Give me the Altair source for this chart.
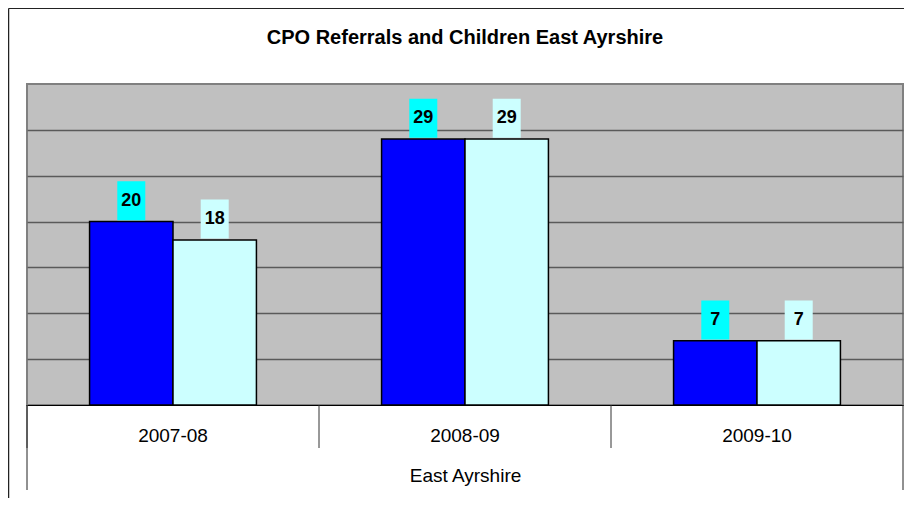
import altair as alt
import pandas as pd

years = ["2007-08", "2008-09", "2009-10"]
series = ["Referrals", "Children"]
referrals = [20, 29, 7]
children = [18, 29, 7]
chart_title = "CPO Referrals and Children East Ayrshire"
group_label = "East Ayrshire"

rows = []
for yr, a, b in zip(years, referrals, children):
    rows.append({"year": yr, "series": series[0], "value": a})
    rows.append({"year": yr, "series": series[1], "value": b})
df = pd.DataFrame(rows)
one = pd.DataFrame({"k": [0]})

W, H = 876, 321
FONT = "Liberation Sans"

yscale = alt.Scale(domain=[0, 35], nice=False, zero=True)
y_axis = alt.Axis(title=None, labels=False, ticks=False, domain=False, grid=True,
                  gridColor="#5a5a5a", gridWidth=1.5, values=[5, 10, 15, 20, 25, 30])

x_axis = alt.Axis(
    title=group_label, labelAngle=0, ticks=False, tickSize=0,
    domain=True, domainColor="#000000", domainWidth=1,
    labelPadding=30, labelBaseline="middle", labelFontSize=19,
    labelFont=FONT, labelColor="#000000",
    titleFontSize=19, titleFont=FONT, titleFontWeight="normal",
    titleY=70, titleBaseline="middle", titleColor="#000000", grid=False,
)
xscale = alt.Scale(paddingInner=0, paddingOuter=0)
x_main = alt.X("year:N", sort=years, scale=xscale, axis=x_axis)
xo = alt.XOffset("series:N", sort=series,
                 scale=alt.Scale(domain=series, paddingInner=0, paddingOuter=0.75))

bars = alt.Chart(df).mark_bar(stroke="#000000", strokeWidth=1.5).encode(
    x=x_main, xOffset=xo,
    y=alt.Y("value:Q", scale=yscale, axis=y_axis),
    color=alt.Color("series:N", scale=alt.Scale(domain=series, range=["#0000FF", "#CCFFFF"]), legend=None),
)

boxes = alt.Chart(df).transform_calculate(
    lo="datum.value + 0.15", hi="datum.value + 4.4"
).mark_rule(strokeWidth=28, strokeCap="butt").encode(
    x=x_main, xOffset=xo,
    y=alt.Y("lo:Q", scale=yscale, axis=y_axis), y2="hi:Q",
    stroke=alt.Stroke("series:N", scale=alt.Scale(domain=series, range=["#00FFFF", "#CCFFFF"]), legend=None),
)

labels = alt.Chart(df).transform_calculate(
    ty="datum.value + 2.25"
).mark_text(font=FONT, fontSize=18, fontWeight="bold", baseline="middle", color="#000000").encode(
    x=x_main, xOffset=xo,
    y=alt.Y("ty:Q", scale=yscale, axis=y_axis),
    text="value:Q",
)

seps = alt.Chart(pd.DataFrame({"year": years})).mark_rule(color="#333333", strokeWidth=1).encode(
    x=alt.X("year:N", sort=years, bandPosition=0, scale=xscale, axis=x_axis),
    y=alt.value(H), y2=alt.value(H + 43),
)

left_edge = alt.Chart(one).mark_rule(color="#222222", strokeWidth=1).encode(
    x=alt.value(0), y=alt.value(H), y2=alt.value(H + 85))
right_edge = alt.Chart(one).mark_rule(color="#222222", strokeWidth=1).encode(
    x=alt.value(W), y=alt.value(H), y2=alt.value(H + 85))
frame_left = alt.Chart(one).mark_rule(color="#222222", strokeWidth=1.5).encode(
    x=alt.value(-18.5), y=alt.value(-75.5), y2=alt.value(H + 110))
frame_top = alt.Chart(one).mark_rule(color="#222222", strokeWidth=1).encode(
    x=alt.value(-18.5), x2=alt.value(W + 20), y=alt.value(-75.5))

title_text = alt.Chart(one).mark_text(
    font=FONT, fontSize=20, fontWeight="bold", color="#000000",
    align="center", baseline="alphabetic"
).encode(x=alt.value(W / 2), y=alt.value(-40), text=alt.value(chart_title))

chart = alt.layer(
    bars, boxes, labels, seps, left_edge, right_edge, frame_left, frame_top, title_text
).resolve_scale(
    color="independent", stroke="independent"
).properties(
    width=W, height=H,
    padding={"left": 19, "top": 76, "right": 1, "bottom": 93},
    autosize=alt.AutoSizeParams(type="none"),
    background="white",
).configure_view(
    stroke="#808080", strokeWidth=2, fill="#C0C0C0"
)

chart.save("out.html", embed_options={"renderer": "svg", "actions": False})
